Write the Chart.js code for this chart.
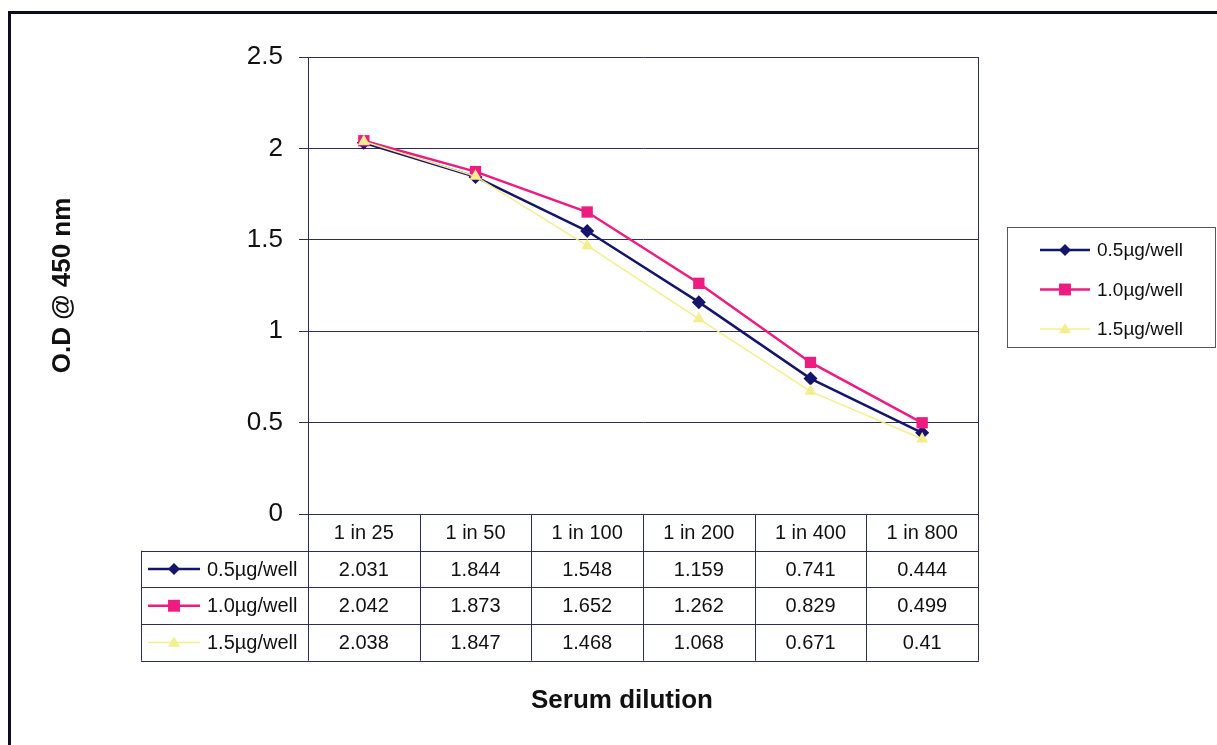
<!DOCTYPE html>
<html>
<head>
<meta charset="utf-8">
<script src="https://cdn.jsdelivr.net/npm/chart.js@4/dist/chart.umd.min.js"></script>
<style>
  body { margin: 0; background: #fff; }
  #wrap { width: 1217px; height: 745px; }
</style>
</head>
<body>
<div id="wrap"><canvas id="odChart" width="1217" height="745"></canvas></div>
<script>
// serum dilution series (O.D at 450 nm)
const categories = ['1 in 25', '1 in 50', '1 in 100', '1 in 200', '1 in 400', '1 in 800'];
const od05 = [2.031, 1.844, 1.548, 1.159, 0.741, 0.444];
const od10 = [2.042, 1.873, 1.652, 1.262, 0.829, 0.499];
const od15 = [2.038, 1.847, 1.468, 1.068, 0.671, 0.41];
const seriesNames = ['0.5µg/well', '1.0µg/well', '1.5µg/well'];
const yTicks = [0, 0.5, 1, 1.5, 2, 2.5];

const FONT = 'Liberation Sans, Arial, sans-serif';
const gridColor = '#2e2e55';
const textColor = '#111';

const series = [
  { name: seriesNames[0], data: od05, color: '#15156b', style: 'rectRot', radius: 7, width: 2.5, order: 3 },
  { name: seriesNames[1], data: od10, color: '#ec1c80', style: 'rect', radius: 8, width: 2.5, order: 2 },
  { name: seriesNames[2], data: od15, color: '#f4ef8c', style: 'triangle', radius: 7, width: 1.5, order: 1 }
];

function drawMarker(ctx, s, x, y, r) {
  ctx.save();
  ctx.fillStyle = s.color;
  ctx.beginPath();
  if (s.style === 'rectRot') {
    ctx.moveTo(x, y - r); ctx.lineTo(x + r, y); ctx.lineTo(x, y + r); ctx.lineTo(x - r, y);
  } else if (s.style === 'rect') {
    ctx.rect(x - r * 0.85, y - r * 0.85, r * 1.7, r * 1.7);
  } else {
    ctx.moveTo(x, y - r); ctx.lineTo(x + r, y + r * 0.7); ctx.lineTo(x - r, y + r * 0.7);
  }
  ctx.closePath();
  ctx.fill();
  ctx.restore();
}

function legendSample(ctx, s, x1, x2, y, r) {
  ctx.save();
  ctx.strokeStyle = s.color;
  ctx.lineWidth = s.width;
  ctx.beginPath();
  ctx.moveTo(x1, y); ctx.lineTo(x2, y);
  ctx.stroke();
  ctx.restore();
  drawMarker(ctx, s, (x1 + x2) / 2, y, r);
}

// frame, data table, side legend and axis caption
const extras = {
  id: 'extras',
  afterDraw(chart) {
    const ctx = chart.ctx;
    const area = chart.chartArea;
    const xs = chart.scales.x;
    const n = categories.length;

    ctx.save();
    // outer frame
    ctx.strokeStyle = '#0d0d1e';
    ctx.lineWidth = 3;
    ctx.beginPath();
    ctx.moveTo(9.5, 760); ctx.lineTo(9.5, 12.5); ctx.lineTo(1230, 12.5);
    ctx.stroke();

    // right edge of plot area
    ctx.strokeStyle = gridColor;
    ctx.lineWidth = 1;
    ctx.beginPath();
    ctx.moveTo(area.right + 0.5, area.top); ctx.lineTo(area.right + 0.5, area.bottom);
    ctx.stroke();

    // data table
    const rowH = 36.7;
    const top = area.bottom;
    const tableBottom = top + rowH * 4;
    const labelLeft = 141;
    const bounds = [area.left];
    for (let i = 1; i < n; i++) {
      bounds.push((xs.getPixelForValue(i - 1) + xs.getPixelForValue(i)) / 2);
    }
    bounds.push(area.right);

    ctx.beginPath();
    bounds.forEach(b => {
      ctx.moveTo(Math.round(b) + 0.5, top); ctx.lineTo(Math.round(b) + 0.5, tableBottom);
    });
    ctx.moveTo(labelLeft + 0.5, top + rowH); ctx.lineTo(labelLeft + 0.5, tableBottom);
    for (let r = 1; r <= 4; r++) {
      const y = Math.round(top + rowH * r) + 0.5;
      ctx.moveTo(labelLeft, y); ctx.lineTo(area.right + 1, y);
    }
    ctx.stroke();

    ctx.fillStyle = textColor;
    ctx.font = '20px ' + FONT;
    ctx.textAlign = 'center';
    ctx.textBaseline = 'middle';
    categories.forEach((c, i) => {
      ctx.fillText(c, xs.getPixelForValue(i), top + rowH / 2 + 1);
    });
    series.forEach((s, r) => {
      const y = top + rowH * (r + 1.5) + 1;
      s.data.forEach((v, i) => {
        ctx.fillText(String(v), xs.getPixelForValue(i), y);
      });
    });
    ctx.textAlign = 'left';
    series.forEach((s, r) => {
      const y = top + rowH * (r + 1.5);
      legendSample(ctx, s, 148, 200, y, s.radius - 1);
      ctx.fillStyle = textColor;
      ctx.fillText(s.name, 207, y + 1);
    });

    // legend box
    ctx.strokeStyle = '#555566';
    ctx.lineWidth = 1;
    ctx.strokeRect(1007.5, 227.5, 208, 120);
    ctx.font = '19px ' + FONT;
    series.forEach((s, r) => {
      const y = 250 + r * 39.5;
      legendSample(ctx, s, 1040, 1090, y, s.radius - 1);
      ctx.fillStyle = textColor;
      ctx.fillText(s.name, 1097, y + 1);
    });

    // x caption
    ctx.font = 'bold 26px ' + FONT;
    ctx.textAlign = 'center';
    ctx.fillText('Serum dilution', 622, 701);
    ctx.restore();
  }
};

new Chart(document.getElementById('odChart'), {
  type: 'line',
  data: {
    labels: categories,
    datasets: series.map(s => ({
      label: s.name,
      data: s.data,
      borderColor: s.color,
      backgroundColor: s.color,
      borderWidth: s.width,
      pointStyle: s.style,
      pointRadius: s.radius,
      pointBorderWidth: 0,
      pointBackgroundColor: s.color,
      order: s.order,
      tension: 0
    }))
  },
  options: {
    responsive: false,
    animation: false,
    layout: { padding: { left: 0, right: 239, top: 57, bottom: 0 } },
    plugins: { legend: { display: false }, tooltip: { enabled: false } },
    scales: {
      x: {
        type: 'category',
        offset: true,
        grid: { display: false },
        ticks: { display: false },
        border: { display: true, color: gridColor, width: 1 },
        afterFit(scale) { scale.height = 231; }
      },
      y: {
        min: 0,
        max: 2.5,
        afterBuildTicks(scale) { scale.ticks = yTicks.map(v => ({ value: v })); },
        ticks: {
          color: textColor,
          padding: 16,
          font: { family: FONT, size: 26 },
          callback: v => String(v)
        },
        grid: { color: gridColor, lineWidth: 1, tickLength: 9 },
        border: { display: true, color: gridColor, width: 1 },
        title: {
          display: true,
          text: 'O.D @ 450 nm',
          color: textColor,
          font: { family: FONT, size: 26, weight: 'bold' },
          padding: { top: 47, bottom: 0 }
        },
        afterFit(scale) { scale.width = 308; }
      }
    }
  },
  plugins: [extras]
});
</script>
</body>
</html>
